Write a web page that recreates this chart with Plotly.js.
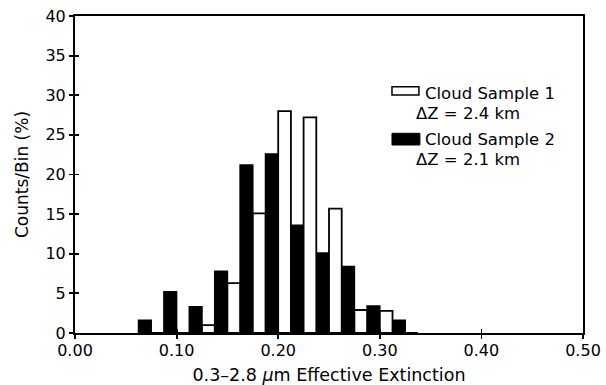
<!DOCTYPE html>
<html>
<head>
<meta charset="utf-8">
<script src="https://cdn.plot.ly/plotly-3.0.1.min.js"></script>
<style>
  html, body { margin: 0; padding: 0; background: #fff; }
  #chart { width: 606px; height: 385px; }
</style>
</head>
<body>
<div id="chart"></div>
<script>
// Histogram bin centres of the 0.3-2.8 um effective extinction
const binCenters = [0.075, 0.100, 0.125, 0.150, 0.175, 0.200, 0.225, 0.250, 0.275, 0.300, 0.325];

// Counts per bin (%) for each cloud sample
const sample1 = [0, 0, 1.0, 6.3, 15.1, 28.0, 27.2, 15.7, 2.9, 2.8, 0];
const sample2 = [1.6, 5.2, 3.3, 7.8, 21.2, 22.6, 13.6, 10.1, 8.4, 3.4, 1.6];

const xTicks = [0, 0.1, 0.2, 0.3, 0.4, 0.5];
const xTickText = ['0.00', '0.10', '0.20', '0.30', '0.40', '0.50'];
const yTicks = [0, 5, 10, 15, 20, 25, 30, 35, 40];

const FONT = 'DejaVu Sans, sans-serif';

const traces = [
  {
    type: 'bar', name: 'Cloud Sample 2', x: binCenters, y: sample2,
    marker: { color: '#000', line: { color: '#000', width: 1.5 } },
    showlegend: false, hoverinfo: 'skip'
  },
  {
    type: 'bar', name: 'Cloud Sample 1', x: binCenters, y: sample1,
    marker: { color: '#fff', line: { color: '#000', width: 1.8 } },
    showlegend: false, hoverinfo: 'skip'
  }
];

const axisCommon = {
  showgrid: false, zeroline: false, showline: true,
  linecolor: '#000', linewidth: 2,
  ticks: 'outside', ticklen: 4, tickwidth: 1.8, tickcolor: '#000',
  tickfont: { family: FONT, size: 16, color: '#000' }
};

const layout = {
  width: 606, height: 385,
  margin: { l: 75, r: 23, t: 16, b: 52 },
  paper_bgcolor: '#fff', plot_bgcolor: '#fff',
  barmode: 'group', bargap: 0, bargroupgap: 0,
  font: { family: FONT, color: '#000' },
  xaxis: Object.assign({}, axisCommon, {
    range: [0, 0.5], tickvals: xTicks, ticktext: xTickText,
    mirror: true, ticklabelstandoff: -2,
    title: { text: '0.3\u20132.8 <i>\u03bc</i>m Effective Extinction', font: { family: FONT, size: 17.5, color: '#000' }, standoff: 11 }
  }),
  yaxis: Object.assign({}, axisCommon, {
    range: [0, 40], tickvals: yTicks,
    mirror: true,
    title: { text: 'Counts/Bin (%)', font: { family: FONT, size: 17, color: '#000' }, standoff: 12 }
  }),
  // inward half of the crossing tick marks
  xaxis2: {
    overlaying: 'x', anchor: 'y', range: [0, 0.5], tickvals: xTicks,
    showticklabels: false, showgrid: false, zeroline: false, showline: false,
    ticks: 'inside', ticklen: 4, tickwidth: 1.8, tickcolor: '#000'
  },
  yaxis2: {
    overlaying: 'y', anchor: 'x', range: [0, 40], tickvals: yTicks,
    showticklabels: false, showgrid: false, zeroline: false, showline: false,
    ticks: 'inside', ticklen: 4, tickwidth: 1.8, tickcolor: '#000'
  },
  shapes: [
    { type: 'rect', xref: 'paper', yref: 'paper', x0: 0.624, x1: 0.677, y0: 0.751, y1: 0.777,
      fillcolor: '#fff', line: { color: '#000', width: 1.5 } },
    { type: 'rect', xref: 'paper', yref: 'paper', x0: 0.624, x1: 0.679, y0: 0.593, y1: 0.630,
      fillcolor: '#000', line: { color: '#000', width: 1 } }
  ],
  annotations: [
    { text: 'Cloud Sample 1', x: 0.685, y: 0.754 },
    { text: '\u0394Z = 2.4 km', x: 0.667, y: 0.691 },
    { text: 'Cloud Sample 2', x: 0.685, y: 0.609 },
    { text: '\u0394Z = 2.1 km', x: 0.667, y: 0.546 }
  ].map(a => Object.assign({
    xref: 'paper', yref: 'paper', xanchor: 'left', yanchor: 'middle',
    showarrow: false, font: { family: FONT, size: 16.5, color: '#000' }
  }, a))
};

// an empty trace so the overlaid tick axes are drawn
traces.push({ type: 'scatter', x: [], y: [], xaxis: 'x2', yaxis: 'y2', showlegend: false, hoverinfo: 'skip' });

Plotly.newPlot('chart', traces, layout, { staticPlot: true, displayModeBar: false });
</script>
</body>
</html>
